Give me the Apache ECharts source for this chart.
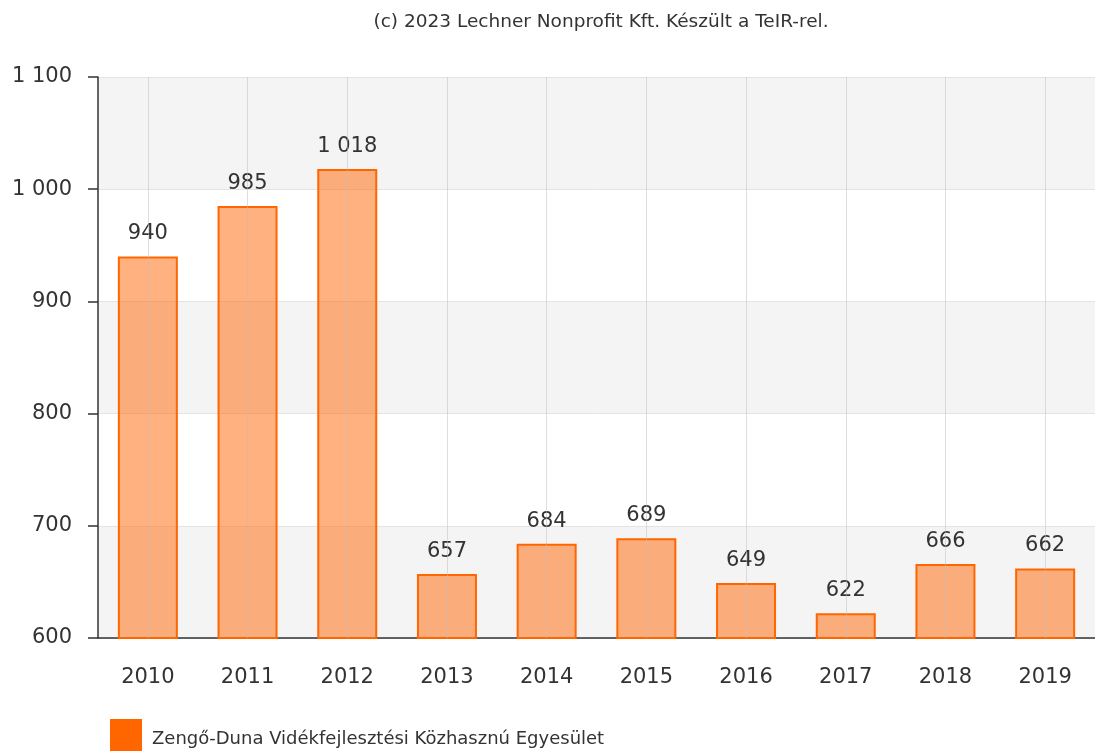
<!DOCTYPE html>
<html><head><meta charset="utf-8">
<script src="https://cdn.jsdelivr.net/npm/echarts@6/dist/echarts.min.js"></script>
<style>html,body{margin:0;padding:0;background:#fff}#c{width:1095px;height:751px}</style>
</head><body><div id="c"></div>
<script>
const categories = ['2010','2011','2012','2013','2014','2015','2016','2017','2018','2019'];
const values = [940, 985, 1018, 657, 684, 689, 649, 622, 666, 662];
const seriesName = 'Zengő-Duna Vidékfejlesztési Közhasznú Egyesület';
const titleText = '(c) 2023 Lechner Nonprofit Kft. Készült a TeIR-rel.';
const yMin = 600, yMax = 1100, yStep = 100;

function fmt(v){ return String(v).replace(/\B(?=(\d{3})+(?!\d))/g, ' '); }
const FONT = 'DejaVu Sans';
const chart = echarts.init(document.getElementById('c'));
chart.setOption({
  animation:false,
  textStyle:{fontFamily:FONT},
  title:{text:titleText,left:596,top:8,textAlign:'center',textStyle:{fontFamily:FONT,fontSize:18.5,fontWeight:'normal',color:'#333'}},
  legend:{left:110,top:719,padding:0,itemWidth:32,itemHeight:40,itemGap:8,icon:'rect',
    textStyle:{fontFamily:FONT,fontSize:18,color:'#333',padding:[0,0,0,5]},
    data:[{name:seriesName,itemStyle:{color:'#ff6600',borderWidth:0}}]},
  grid:{left:98,top:77,width:1000,height:561,containLabel:false},
  xAxis:{type:'category',data:categories,
    axisLine:{lineStyle:{color:'#333',width:1.5}},
    axisTick:{alignWithLabel:true,length:10,lineStyle:{color:'#333',width:1.5}},
    axisLabel:{margin:29,fontSize:21,color:'#333',fontFamily:FONT},
    splitLine:{show:false}},
  yAxis:{type:'value',min:yMin,max:yMax,interval:yStep,
    axisLine:{show:true,lineStyle:{color:'#333',width:1.5}},
    axisTick:{show:true,length:10,lineStyle:{color:'#333',width:1.5}},
    axisLabel:{margin:26,fontSize:21,color:'#333',fontFamily:FONT,formatter:fmt},
    splitLine:{lineStyle:{color:'#e4e4e4',width:1}},
    splitArea:{show:true,areaStyle:{color:['#f4f4f4','#ffffff']}}},
  series:[{name:seriesName,type:'bar',data:values,barWidth:60,
    itemStyle:{color:'rgba(255,102,0,0.5)',borderColor:'#ff6600',borderWidth:2},
    label:{show:true,position:'top',distance:12,fontSize:21,color:'#333',fontFamily:FONT,formatter:p=>fmt(p.value)},
    markLine:{silent:true,symbol:'none',label:{show:false},animation:false,
      lineStyle:{color:'rgba(190,190,190,0.5)',width:1,type:'solid'},
      data:categories.map(c=>({xAxis:c}))}
  }],
  color:['#ff6600']
});
</script></body></html>
